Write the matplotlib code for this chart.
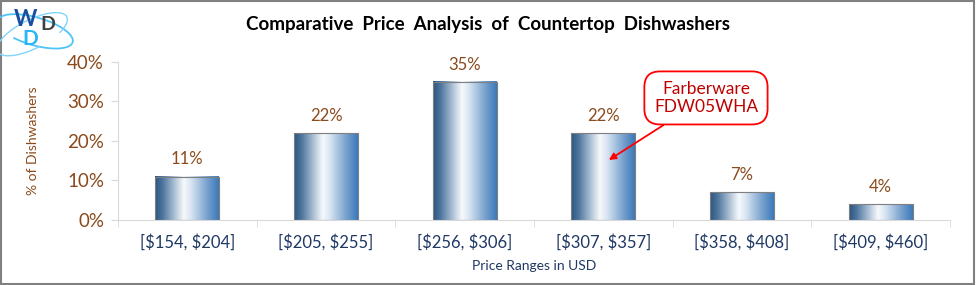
import matplotlib
matplotlib.use("Agg")
import matplotlib.pyplot as plt
import numpy as np
from matplotlib.colors import LinearSegmentedColormap
from matplotlib.patches import Rectangle, Arc

categories = ["[$154, $204]", "[$205, $255]", "[$256, $306]", "[$307, $357]", "[$358, $408]", "[$409, $460]"]
values = [11, 22, 35, 22, 7, 4]
yticks = [0, 10, 20, 30, 40]
title = "Comparative  Price  Analysis  of  Countertop  Dishwashers"
xlabel = "Price Ranges in USD"
ylabel = "% of Dishwashers"
annot_text = "Farberware\nFDW05WHA"
annot_index = 3

FONT = ["Lato", "DejaVu Sans"]
plt.rcParams['font.family'] = FONT


def esc(s):
    return s.replace("$", r"\$")


fig = plt.figure(figsize=(9.76, 2.85), dpi=100)
ax = fig.add_axes([0.1209, 0.2281, 0.8525, 0.5544])

brown = "#8B4A1C"
navy = "#1F3864"

cmap = LinearSegmentedColormap.from_list("bar", [
    (0.0, "#2A5480"), (0.12, "#4F769E"), (0.30, "#A9BED3"),
    (0.45, "#F6F9FC"), (0.55, "#DDE8F3"), (0.80, "#7FA6D0"), (1.0, "#3A78BA")])
grad = np.linspace(0, 1, 256).reshape(1, -1)

x = np.arange(len(categories))
width = 0.46
bars = ax.bar(x, values, width=width, color="none", edgecolor="#7F7F7F", linewidth=0.8, zorder=3)
for b in bars:
    x0, w, h = b.get_x(), b.get_width(), b.get_height()
    ax.imshow(grad, cmap=cmap, aspect="auto", extent=[x0, x0 + w, 0, h],
              zorder=2, interpolation="bilinear")

for xi, v in zip(x, values):
    ax.text(xi, v + 2.3, f"{v}%", ha="center", va="bottom", fontsize=12, color=brown)

ax.set_xlim(-0.5, len(categories) - 0.5)
ax.set_ylim(0, 40)
ax.set_yticks(yticks)
ax.set_yticklabels([f"{t}%" for t in yticks], fontsize=13.5, color=brown)
ax.set_xticks(x)
ax.set_xticklabels([esc(c) for c in categories], fontsize=12, color=navy)
ax.set_xticks(np.arange(len(categories) + 1) - 0.5, minor=True)
ax.tick_params(axis="x", which="major", length=0, pad=10)
ax.tick_params(axis="x", which="minor", length=5, color="#D9D9D9", direction="out")
ax.tick_params(axis="y", length=5, color="#D9D9D9", pad=5)
for s in ["top", "right"]:
    ax.spines[s].set_visible(False)
ax.spines["left"].set_color("#D9D9D9")
ax.spines["bottom"].set_color("#D9D9D9")
ax.set_xlabel(xlabel, fontsize=10, color=navy, labelpad=7)
ax.set_ylabel(ylabel, fontsize=10, color=brown, labelpad=20)

fig.text(0.5, 0.913, title, ha="center", va="center", fontsize=13.5, fontweight="bold", color="black")

ax.annotate(annot_text, xy=(annot_index + 0.04, 15.2), xytext=(annot_index + 0.74, 30.9),
            ha="center", va="center", fontsize=12.5, color="#C00000", linespacing=1.15,
            bbox=dict(boxstyle="round,pad=0.55,rounding_size=0.9", fc="white", ec="#FF0000", lw=1.3),
            arrowprops=dict(arrowstyle="-|>", color="#FF0000", lw=1.3, mutation_scale=10,
                            shrinkA=0, shrinkB=0), zorder=5)

# border
fig.patches.append(Rectangle((0.001, 0.002), 0.997, 0.995, transform=fig.transFigure,
                             fill=False, ec="#808080", lw=1.5))

# logo
fig.patches.append(Arc((0.036, 0.89), 0.06, 0.13, angle=25, theta1=200, theta2=470,
                       transform=fig.transFigure, ec="#4FC3F7", lw=1.3))
fig.patches.append(Arc((0.033, 0.88), 0.05, 0.16, angle=-20, theta1=30, theta2=300,
                       transform=fig.transFigure, ec="#81D4FA", lw=1.0))
fig.text(0.0266, 0.933, "W", fontsize=16, fontweight="bold", color="#1A4FA0", ha="center", va="center")
fig.text(0.049, 0.915, "D", fontsize=14, fontweight="bold", color="#404040", ha="center", va="center")
fig.text(0.031, 0.862, "D", fontsize=15, fontweight="bold", color="#29B6F6", ha="center", va="center")

fig.savefig("out.png", dpi=100)
